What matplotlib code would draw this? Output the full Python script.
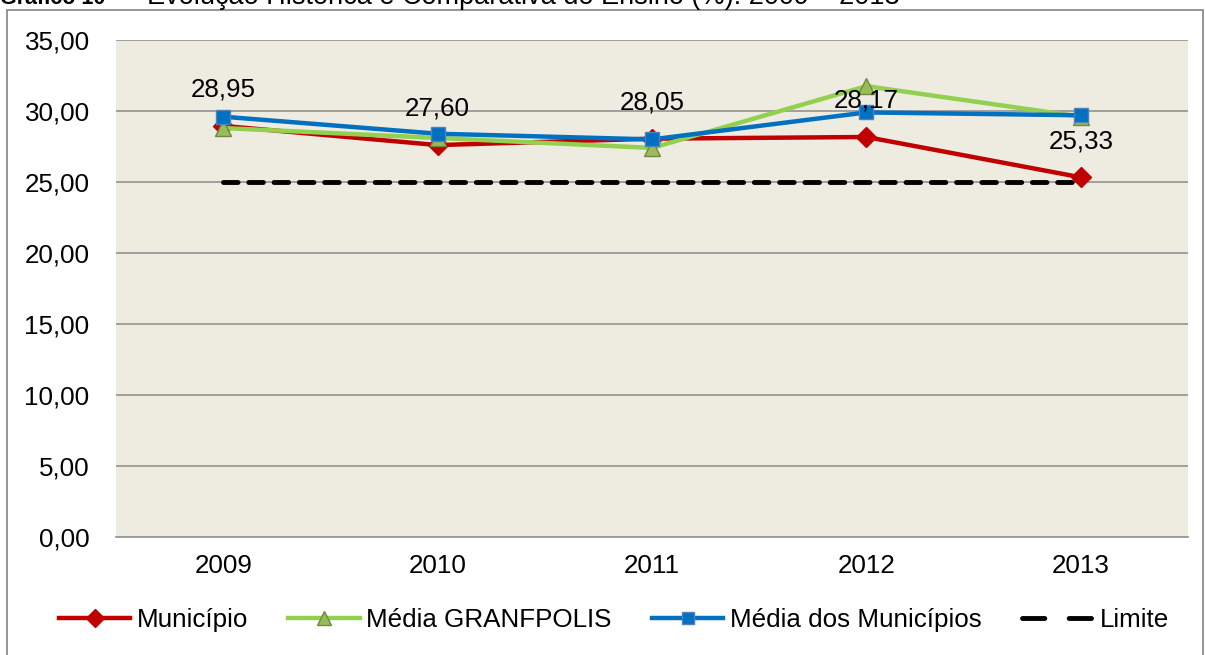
import matplotlib
matplotlib.use("Agg")
import matplotlib.pyplot as plt
from matplotlib.patches import Rectangle

plt.rcParams['font.family'] = ['Liberation Sans', 'DejaVu Sans']

anos = ["2009", "2010", "2011", "2012", "2013"]
municipio = [28.95, 27.60, 28.05, 28.17, 25.33]
media_granfpolis = [28.8, 28.1, 27.4, 31.75, 29.6]
media_municipios = [29.6, 28.4, 28.0, 29.9, 29.7]
limite = [25, 25, 25, 25, 25]
yticks = [0, 5, 10, 15, 20, 25, 30, 35]

FS = 18.7

fig = plt.figure(figsize=(12.05, 6.55), dpi=100)
ax = fig.add_axes([116 / 1205, 1 - 537 / 655, (1188 - 116) / 1205, (537 - 40) / 655])
ax.set_facecolor("#EEEBE1")

x = list(range(len(anos)))
ax.plot(x, municipio, color="#C00000", lw=3.2, marker="D", ms=10,
        mfc="#C00000", mec="#C00000", label="Município", zorder=3)
ax.plot(x, media_granfpolis, color="#92D050", lw=3.2, marker="^", ms=11,
        mfc="#9BBB59", mec="#71893F", label="Média GRANFPOLIS", zorder=4)
ax.plot(x, media_municipios, color="#0070C0", lw=3.2, marker="s", ms=10,
        mfc="#0070C0", mec="#4F81BD", label="Média dos Municípios", zorder=5)
ax.plot(x, limite, color="black", lw=3.5, ls=(0, (3, 2.2)), dash_capstyle="round",
        label="Limite", zorder=2)

for xi, v in zip(x, municipio):
    ax.annotate(f"{v:.2f}".replace(".", ","), (xi, v), xytext=(0, 26),
                textcoords="offset points", ha="center", va="center", fontsize=FS,
                zorder=6)

ax.set_xlim(-0.5, len(anos) - 0.5)
ax.set_ylim(0, 35)
ax.set_yticks(yticks)
ax.set_yticklabels([f"{t:.2f}".replace(".", ",") for t in yticks], fontsize=FS)
ax.set_xticks(x)
ax.set_xticklabels(anos, fontsize=FS)
ax.tick_params(axis="x", length=0, pad=12)
ax.tick_params(axis="y", length=0, pad=19)
ax.grid(axis="y", color="#9A9A9A", lw=1.3)
ax.set_axisbelow(True)
for s in ["left", "right", "top"]:
    ax.spines[s].set_visible(False)
ax.spines["bottom"].set_color("#9A9A9A")
ax.spines["bottom"].set_linewidth(1.3)

handles, labels = ax.get_legend_handles_labels()
leg = fig.legend(handles, labels, loc="center", bbox_to_anchor=(614 / 1205, 1 - 620 / 655),
                 ncol=4, frameon=False, fontsize=FS, handlelength=2.75,
                 columnspacing=1.55, handletextpad=0.25, markerscale=0.9,
                 borderpad=0, borderaxespad=0)
leg.legend_handles[3].set_linestyle((0, (4.6, 5.0)))

fig.patches.append(Rectangle((7 / 1205, -0.1), 1196 / 1205, 1.1 - 10 / 655,
                             transform=fig.transFigure, fill=False,
                             edgecolor="#8C8C8C", lw=1.3))

fig.text(0.5 / 1205, 1 - 4 / 655, "Gráfico 10", fontsize=15.5, fontweight="bold",
         va="baseline")
fig.text(110 / 1205, 1 - 4 / 655, "–", fontsize=19.5, va="baseline")
fig.text(147 / 1205, 1 - 4 / 655, "Evolução Histórica e Comparativa do Ensino (%): 2009 – 2013",
         fontsize=19.5, va="baseline")

fig.savefig("out.png", dpi=100)
plt.close(fig)
